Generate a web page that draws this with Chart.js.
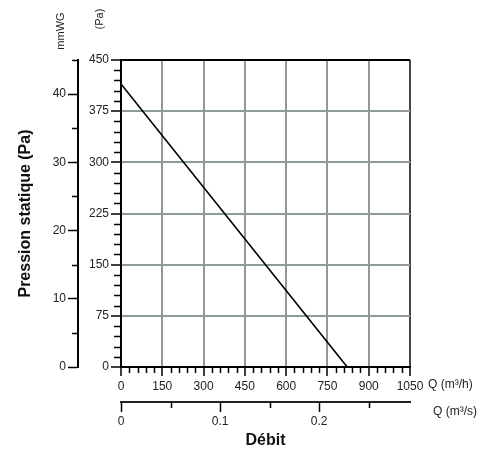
<!DOCTYPE html>
<html>
<head>
<meta charset="utf-8">
<script src="https://cdn.jsdelivr.net/npm/chart.js@4"></script>
<style>
  html, body { margin: 0; padding: 0; background: #fff; }
  #wrap { width: 493px; height: 463px; }
</style>
</head>
<body>
<div id="wrap"><canvas id="fan-chart" width="493" height="463"></canvas></div>
<script>
// Fan curve: flow (m³/h) vs static pressure (Pa)
const flowM3h = [0, 822];
const pressurePa = [415, 0];

// Axis ticks
const flowTicks = [0, 150, 300, 450, 600, 750, 900, 1050];
const pressureTicks = [0, 75, 150, 225, 300, 375, 450];
const mmwgTicks = [0, 10, 20, 30, 40];
const m3sTicks = [0, 0.1, 0.2];

// Minor tick steps
const flowMinor = 30;
const pressureMinor = 15;
const mmwgMinor = [5, 15, 25, 35, 45];
const m3sMinor = [0.05, 0.15, 0.25];

const FONT = "'Liberation Sans', Arial, sans-serif";
const gridGray = '#8e9b97';
const textColor = '#222';

const setTicks = list => scale => { scale.ticks = list.map(v => ({ value: v })); };
const plainLabel = value => String(value);

// Draw minor ticks and the free axis labels
const extrasPlugin = {
  id: 'extras',
  afterDraw(chart) {
    const ctx = chart.ctx;
    const { x, y, y2, x2 } = chart.scales;
    ctx.save();
    ctx.strokeStyle = '#000';
    ctx.lineWidth = 1.5;
    ctx.beginPath();
    // Pa axis minor ticks
    for (let v = 0; v <= 450; v += pressureMinor) {
      if (v % 75 === 0) continue;
      const py = Math.round(y.getPixelForValue(v)) + 0.5;
      ctx.moveTo(y.right - 7, py);
      ctx.lineTo(y.right, py);
    }
    // mmWG minor ticks
    mmwgMinor.forEach(v => {
      const py = Math.round(y2.getPixelForValue(v)) + 0.5;
      ctx.moveTo(y2.right - 6, py);
      ctx.lineTo(y2.right, py);
    });
    // m³/h minor ticks
    for (let v = 0; v <= 1050; v += flowMinor) {
      if (v % 150 === 0) continue;
      const px = Math.round(x.getPixelForValue(v)) + 0.5;
      ctx.moveTo(px, x.top);
      ctx.lineTo(px, x.top + 6);
    }
    // m³/s minor ticks
    m3sMinor.forEach(v => {
      const px = Math.round(x2.getPixelForValue(v)) + 0.5;
      ctx.moveTo(px, x2.top);
      ctx.lineTo(px, x2.top + 6);
    });
    ctx.stroke();

    // unit labels
    ctx.fillStyle = textColor;
    ctx.font = '11px ' + FONT;
    ctx.textBaseline = 'middle';
    ctx.textAlign = 'center';
    ctx.save();
    ctx.translate(61, 31);
    ctx.rotate(-Math.PI / 2);
    ctx.fillText('mmWG', 0, 0);
    ctx.restore();
    ctx.save();
    ctx.translate(100, 19);
    ctx.rotate(-Math.PI / 2);
    ctx.fillText('(Pa)', 0, 0);
    ctx.restore();

    ctx.font = '12px ' + FONT;
    ctx.textAlign = 'left';
    ctx.fillText('Q (m³/h)', 428, 385);
    ctx.fillText('Q (m³/s)', 433, 412);
    ctx.restore();
  }
};

const ctx = document.getElementById('fan-chart').getContext('2d');

const fanChart = new Chart(ctx, {
  type: 'scatter',
  data: {
    datasets: [{
      data: flowM3h.map((q, i) => ({ x: q, y: pressurePa[i] })),
      showLine: true,
      borderColor: '#000',
      borderWidth: 1.6,
      pointRadius: 0,
      xAxisID: 'x',
      yAxisID: 'y'
    }]
  },
  options: {
    responsive: false,
    animation: false,
    layout: { padding: { top: 60, right: 83, bottom: 0, left: 0 } },
    plugins: {
      legend: { display: false },
      tooltip: { enabled: false }
    },
    scales: {
      x: {
        type: 'linear',
        position: 'bottom',
        weight: 0,
        min: 0,
        max: 1050,
        afterBuildTicks: setTicks(flowTicks),
        afterFit: scale => { scale.height = 35; },
        ticks: {
          font: { size: 12, family: FONT },
          color: textColor,
          padding: 3,
          maxRotation: 0,
          callback: plainLabel
        },
        grid: {
          color: c => (c.tick && c.tick.value === 1050 ? '#444' : gridGray),
          lineWidth: 2,
          tickColor: '#000',
          tickWidth: 1.5,
          tickLength: 9
        },
        border: { display: true, color: '#000', width: 2 }
      },
      x2: {
        type: 'linear',
        position: 'bottom',
        weight: 1,
        min: 0,
        max: 1050 / 3600,
        afterBuildTicks: setTicks(m3sTicks),
        afterFit: scale => { scale.height = 61; },
        ticks: {
          font: { size: 12, family: FONT },
          color: textColor,
          padding: 2,
          maxRotation: 0,
          callback: plainLabel
        },
        grid: {
          drawOnChartArea: false,
          tickColor: '#000',
          tickWidth: 1.5,
          tickLength: 10
        },
        border: { display: true, color: '#222', width: 2 },
        title: {
          display: true,
          text: 'Débit',
          color: '#111',
          font: { size: 16, weight: 'bold', family: FONT },
          padding: { top: 0, bottom: 13 }
        }
      },
      y: {
        type: 'linear',
        position: 'left',
        weight: 0,
        min: 0,
        max: 450,
        afterBuildTicks: setTicks(pressureTicks),
        afterFit: scale => { scale.width = 43; },
        ticks: {
          font: { size: 12, family: FONT },
          color: textColor,
          padding: 2,
          callback: plainLabel
        },
        grid: {
          color: c => (c.tick && c.tick.value === 450 ? '#000' : gridGray),
          lineWidth: 2,
          tickColor: '#000',
          tickWidth: 1.5,
          tickLength: 10
        },
        border: { display: true, color: '#000', width: 2 }
      },
      y2: {
        type: 'linear',
        position: 'left',
        weight: 1,
        min: 0,
        max: 45,
        afterBuildTicks: setTicks(mmwgTicks),
        afterFit: scale => { scale.width = 78; },
        ticks: {
          font: { size: 12, family: FONT },
          color: textColor,
          padding: 2,
          callback: plainLabel
        },
        grid: {
          drawOnChartArea: false,
          tickColor: '#000',
          tickWidth: 1.5,
          tickLength: 10
        },
        border: { display: true, color: '#000', width: 2 },
        title: {
          display: true,
          text: 'Pression statique (Pa)',
          color: '#111',
          font: { size: 16, weight: 'bold', family: FONT },
          padding: { top: 16, bottom: 0 }
        }
      }
    }
  },
  plugins: [extrasPlugin]
});
</script>
</body>
</html>
